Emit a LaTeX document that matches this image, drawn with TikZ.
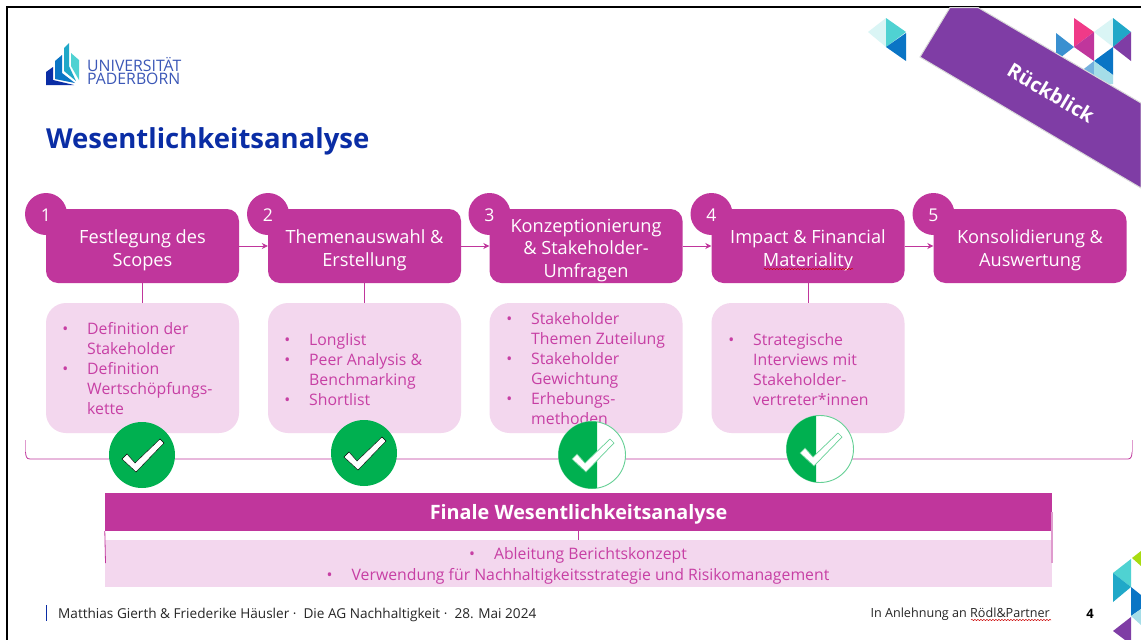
\documentclass[tikz,border=0pt]{standalone}
\usepackage{fontspec}
\setmainfont{Open Sans}
\usetikzlibrary{arrows.meta,decorations.pathmorphing}
\definecolor{mag}{HTML}{C0369C}
\definecolor{lmag}{HTML}{F3D7EE}
\definecolor{ptext}{HTML}{C73FA4}
\definecolor{okgreen}{HTML}{00B050}
\definecolor{lgreen}{HTML}{66D096}
\definecolor{banner}{HTML}{7F3DA5}
\definecolor{navy}{HTML}{0A2DA5}
\definecolor{lcyan}{HTML}{DAF5F5}
\definecolor{teal}{HTML}{4FD2D2}
\definecolor{dteal}{HTML}{20A8C8}
\definecolor{ublue}{HTML}{0A75C5}
\definecolor{mblue}{HTML}{3A90D0}
\definecolor{pinkr}{HTML}{F03A88}
\definecolor{lblue}{HTML}{A5DDE8}
\definecolor{lime}{HTML}{A8DC10}
\definecolor{ink}{HTML}{262626}
\tikzset{
  stepbox/.style={draw=none,fill=mag,rounded corners=12pt,minimum width=193pt,minimum height=74pt,inner sep=0pt},
  steptext/.style={inner sep=0pt,text=white,align=center,font=\fontsize{18.2}{23}\selectfont},
  detailbox/.style={draw=none,fill=lmag,rounded corners=20pt,minimum width=193pt,minimum height=130pt,inner sep=0pt},
  numdot/.style={circle,fill=mag,minimum size=42pt,inner sep=0pt},
  numtext/.style={inner sep=0pt,text=white,font=\fontsize{17.6}{20}\selectfont},
  detailtext/.style={anchor=north west,inner sep=0pt,text=ptext,align=left,font=\fontsize{15.8}{20}\selectfont},
  link/.style={mag,line width=.8pt},
  flow/.style={link,-{Stealth[length=6pt,width=6pt]}},
  fullcheck/.style={circle,fill=okgreen,minimum size=66pt,inner sep=0pt},
  halfcheck/.style={circle,fill=white,draw=lgreen,line width=.9pt,minimum size=67pt,inner sep=0pt},
  foot/.style={inner sep=0pt,text=ink,font=\fontsize{13.6}{16}\selectfont},
  squiggle/.style={red!80!black,line width=.5pt,decorate,decoration={snake,amplitude=.6pt,segment length=3pt}}
}
\newcommand{\tickmark}[3]{\draw[#3,shift={(#1,#2)}] (-20,4)--(-15,-1)--(-7,8)--(18,-16)--(22,-12)--(-6,17)--cycle;}
\newcommand{\bul}{\llap{•\kern19pt}}
\begin{document}
\begin{tikzpicture}[x=1pt,y=-1pt]
\useasboundingbox (0,0) rectangle (1141,640);
\fill[white] (0,0) rectangle (1141,640);
\draw[black,line width=2pt] (6.5,640)--(6.5,6.5)--(1141,6.5);
% decorative triangles
\fill[lcyan] (868,32)--(886,18)--(886,47)--cycle;
\fill[teal] (886,18)--(906,32)--(886,47)--cycle;
\fill[ublue] (906,33)--(906,61)--(886,47)--cycle;
\fill[mblue] (1056,33)--(1074,47)--(1056,61)--cycle;
\fill[pinkr] (1074,18)--(1094,32)--(1074,47)--cycle;
\fill[mag] (1094,32)--(1094,61)--(1074,47)--cycle;
\fill[lcyan] (1094,32)--(1113,18)--(1113,47)--cycle;
\fill[dteal] (1113,18)--(1131,32)--(1113,47)--cycle;
\fill[banner] (1131,32)--(1131,61)--(1113,47)--cycle;
\fill[ublue] (1113,47)--(1113,75)--(1094,61)--cycle;
\fill[mblue!70] (1094,61)--(1094,82)--(1080,72)--cycle;
\fill[lblue] (1094,61)--(1113,75)--(1094,89)--cycle;
\fill[lblue] (1113,75)--(1113,84)--(1094,84)--cycle;
\fill[lime] (1132,558)--(1141,551)--(1141,566)--cycle;
\fill[teal] (1113,573)--(1131,559)--(1131,587)--cycle;
\fill[dteal] (1113,573)--(1131,587)--(1113,602)--cycle;
\fill[ublue] (1131,587)--(1141,595)--(1141,609)--(1131,616)--cycle;
\fill[lblue] (1131,616)--(1141,609)--(1141,625)--cycle;
\fill[banner] (1113,631)--(1131,617)--(1131,640)--(1125,640)--cycle;
% banner
\fill[banner,draw=white!85!black,line width=1pt] (950,7.5)--(978,7.5)--(1141,103)--(1141,188)--(920,57)--cycle;
\node[rotate=-30.5,text=white,inner sep=0pt,font=\bfseries\fontsize{20}{22}\selectfont] (rb) at (1051,93) {Rückblick};
% logo
\fill[navy] (46,85)--(46,72)--(53,67)--(53,80)--(74,85)--cycle;
\fill[ublue] (55,79)--(55,61)--(62,55)--(62,73)--(75,83)--cycle;
\fill[dteal] (64,71)--(64,48)--(69,43)--(69,66)--(76,81)--cycle;
\fill[teal] (71,66)--(71,53)--(79,60)--(79,80)--cycle;
\node[anchor=west,inner sep=0pt,text=navy!80,font=\fontsize{15.8}{16}\selectfont] (uni) at (87,65) {UNIVERSITÄT};
\node[anchor=west,inner sep=0pt,text=navy!80,font=\fontsize{15.8}{16}\selectfont] (pad) at (87,78.5) {PADERBORN};
\node[anchor=west,inner sep=0pt,text=navy,font=\bfseries\fontsize{27.5}{30}\selectfont] (title) at (46,141) {Wesentlichkeitsanalyse};
% bracket
\coordinate (brL) at (25.5,440);
\coordinate (brR) at (1132,440);
\draw[mag!50,line width=.8pt] (brL)--(25.5,452);
\draw[link] (25.5,452) .. controls (26,456) and (26,459) .. (30,459) -- (1128,459) .. controls (1131,459) and (1132,456) .. (1132,452);
\draw[mag!50,line width=.8pt] (brR)--(1132,452);
% number discs behind the step boxes
\node[numdot] (n1) at (46,214) {};
\node[numdot] (n2) at (268,214) {};
\node[numdot] (n3) at (489.5,214) {};
\node[numdot] (n4) at (711.5,214) {};
\node[numdot] (n5) at (933.5,214) {};
% step boxes
\node[stepbox] (b1) at (142.5,246) {};
\node[stepbox] (b2) at (364.5,246) {};
\node[stepbox] (b3) at (586,246) {};
\node[stepbox] (b4) at (808,246) {};
\node[stepbox] (b5) at (1030,246) {};
\foreach \a/\b in {b1/b2,b2/b3,b3/b4,b4/b5}{\draw[flow] (\a) -- (\b);}
\node[numtext] (l1) at (46,215) {1};
\node[numtext] (l2) at (268,215) {2};
\node[numtext] (l3) at (489.5,215) {3};
\node[numtext] (l4) at (711.5,215) {4};
\node[numtext] (l5) at (933.5,215) {5};
\node[steptext] (s1) at (142.5,250) {Festlegung des\\Scopes};
\node[steptext] (s2) at (364.5,250) {Themenauswahl \&\\Erstellung};
\node[steptext,font=\fontsize{18.2}{22.5}\selectfont] (s3) at (586,250.5) {Konzeptionierung\\\& Stakeholder-\\Umfragen};
\node[steptext] (s4) at (808,250) {Impact \& Financial\\Materiality};
\node[steptext] (s5) at (1030,250) {Konsolidierung \&\\Auswertung};
\draw[squiggle] (764,269)--(853,269);
% detail boxes
\node[detailbox] (d1) at (142.5,368) {};
\node[detailbox] (d2) at (364.5,368) {};
\node[detailbox] (d3) at (586,368) {};
\node[detailbox] (d4) at (808,368) {};
\draw[link] (b1)--(d1);
\draw[link] (b2)--(d2);
\draw[link] (b4)--(d4);
\node[detailtext] (t1) at (87,322) {\bul Definition der\\Stakeholder\\\bul Definition\\Wertschöpfungs-\\kette};
\node[detailtext] (t2) at (309,333) {\bul Longlist\\\bul Peer Analysis \&\\Benchmarking\\\bul Shortlist};
\node[detailtext] (t3) at (531,312) {\bul Stakeholder\\Themen Zuteilung\\\bul Stakeholder\\Gewichtung\\\bul Erhebungs-\\methoden};
\node[detailtext] (t4) at (753,333) {\bul Strategische\\Interviews mit\\Stakeholder-\\vertreter*innen};
% checks
\node[fullcheck] (c1) at (142,455) {};
\tickmark{142}{455}{fill=white}
\node[fullcheck] (c2) at (364,453) {};
\tickmark{364}{453}{fill=white}
\node[halfcheck] (c3) at (592,455) {};
\begin{scope}
\clip (500,400) rectangle (597,500);
\fill[okgreen] (592,455) circle[radius=33.5];
\end{scope}
\tickmark{592}{455}{fill=white,draw=lgreen,line width=.7pt}
\node[halfcheck] (c4) at (820,449) {};
\begin{scope}
\clip (750,400) rectangle (816,500);
\fill[okgreen] (820,449) circle[radius=33.5];
\end{scope}
\tickmark{820}{449}{fill=white,draw=lgreen,line width=.7pt}
% final bar
\node[draw=none,fill=lmag,minimum width=947pt,minimum height=47pt,inner sep=0pt] (fd) at (578.5,563.5) {};
\node[draw=none,fill=mag,minimum width=947pt,minimum height=38pt,inner sep=0pt] (fb) at (578.5,512) {};
\node[inner sep=0pt,text=white,font=\bfseries\fontsize{19.8}{22}\selectfont] (ft) at (578.5,514.5) {Finale Wesentlichkeitsanalyse};
\draw[link] (fb)--(fd);
\draw[link] (fb.south west)--(105.5,563);
\draw[mag!50,line width=1.4pt] (1052,512)--(1052,563);
\node[inner sep=0pt,text=ptext,font=\fontsize{15.8}{20}\selectfont] (f1) at (578,555) {•\kern19ptAbleitung Berichtskonzept};
\node[inner sep=0pt,text=ptext,font=\fontsize{15.8}{20}\selectfont] (f2) at (578,576) {•\kern19ptVerwendung für Nachhaltigkeitsstrategie und Risikomanagement};
% footer
\draw[navy,line width=1.6pt] (46.5,605)--(46.5,621);
\node[foot,anchor=west] (fl) at (58,614.5) {Matthias Gierth \& Friederike Häusler ·\ \ Die AG Nachhaltigkeit ·\ \ 28. Mai 2024};
\node[foot,anchor=east,font=\fontsize{12.6}{16}\selectfont] (fr) at (1050,614.5) {In Anlehnung an Rödl\&Partner};
\draw[squiggle] (971,620)--(1051,620);
\node[inner sep=0pt,font=\bfseries\fontsize{13}{16}\selectfont] (pg) at (1090,613.5) {4};
\end{tikzpicture}
\end{document}
